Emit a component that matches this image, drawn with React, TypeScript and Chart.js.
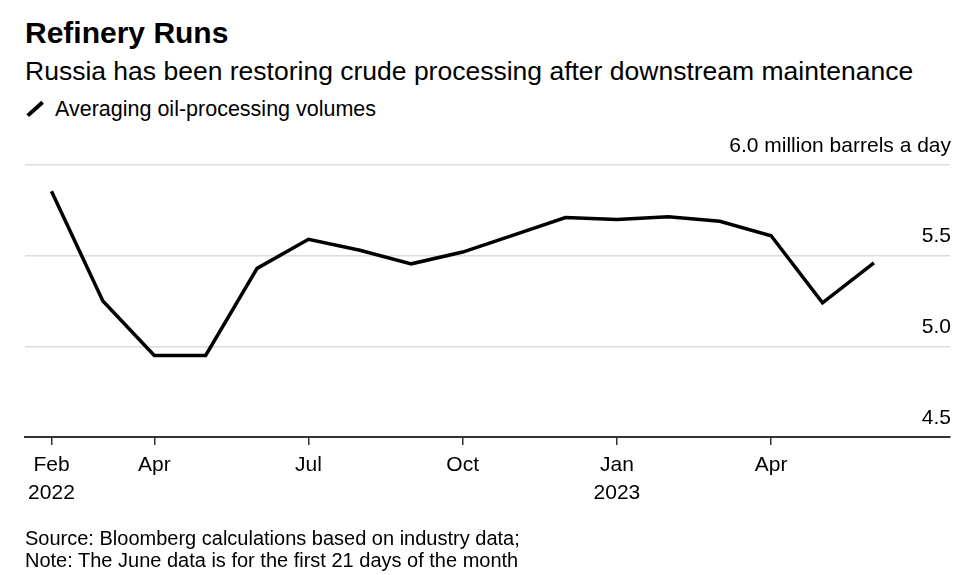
import React, { useEffect, useRef } from "react";
import { Chart, registerables } from "chart.js";

Chart.register(...registerables);

// Monthly index: 0 = Feb 2022 ... 16 = Jun 2023
const monthIndex = [0, 1, 2, 3, 4, 5, 6, 7, 8, 9, 10, 11, 12, 13, 14, 15, 16];
const runs = [5.855, 5.25, 4.95, 4.95, 5.43, 5.59, 5.53, 5.455, 5.52, 5.615, 5.71, 5.70, 5.715, 5.69, 5.61, 5.24, 5.46];
const xTickValues = [0, 2, 5, 8, 11, 14];
const xTickLabels: (string | string[])[] = [["Feb", "2022"], "Apr", "Jul", "Oct", ["Jan", "2023"], "Apr"];
const yTickValues = [4.5, 5.0, 5.5, 6.0];
const yTickLabels = ["4.5", "5.0", "5.5", "6.0 million barrels a day"];

const FONT = "'Liberation Sans', Arial, Helvetica, sans-serif";

export default function App() {
  const canvasRef = useRef<HTMLCanvasElement | null>(null);

  useEffect(() => {
    const canvas = canvasRef.current;
    if (!canvas) return;
    const chart = new Chart(canvas, {
      type: "line",
      data: {
        datasets: [
          {
            data: monthIndex.map((m, i) => ({ x: m, y: runs[i] })),
            borderColor: "#000",
            borderWidth: 3.5,
            pointRadius: 0,
            tension: 0,
            fill: false,
          },
        ],
      },
      options: {
        animation: false,
        responsive: false,
        maintainAspectRatio: false,
        layout: { padding: { left: 25, right: 25, top: 35, bottom: 13 } },
        plugins: { legend: { display: false }, tooltip: { enabled: false } },
        scales: {
          x: {
            type: "linear",
            min: -0.515,
            max: 17.48,
            afterBuildTicks: (scale: any) => {
              scale.ticks = xTickValues.map((v) => ({ value: v }));
            },
            afterFit: (scale: any) => {
              scale.height = 80;
            },
            ticks: {
              autoSkip: false,
              maxRotation: 0,
              padding: 7,
              color: "#000",
              font: { family: FONT, size: 21, lineHeight: 1.3 },
              callback: (value: any) => {
                const i = xTickValues.indexOf(Number(value));
                return i >= 0 ? xTickLabels[i] : "";
              },
            },
            grid: {
              drawOnChartArea: false,
              drawTicks: true,
              tickLength: 8,
              color: "#333",
              lineWidth: 1.5,
            },
            border: { display: true, color: "#333", width: 2 },
          },
          y: {
            position: "right",
            min: 4.5,
            max: 6.0,
            afterBuildTicks: (scale: any) => {
              scale.ticks = yTickValues.map((v) => ({ value: v }));
            },
            afterFit: (scale: any) => {
              scale.width = 0;
            },
            ticks: {
              mirror: true,
              padding: 1,
              labelOffset: -19,
              color: "#000",
              font: { family: FONT, size: 21 },
              callback: (value: any) => {
                const i = yTickValues.indexOf(Number(value));
                return i >= 0 ? yTickLabels[i] : "";
              },
            },
            grid: {
              drawTicks: false,
              lineWidth: 1.5,
              color: (ctx: any) =>
                ctx.tick && ctx.tick.value === 4.5 ? "rgba(0,0,0,0)" : "#dcdcdc",
            },
            border: { display: false },
          },
        },
      },
    });
    return () => chart.destroy();
  }, []);

  const text: React.CSSProperties = {
    position: "absolute",
    fontFamily: FONT,
    color: "#000",
    whiteSpace: "nowrap",
    lineHeight: 1,
  };

  return (
    <div
      style={{
        position: "fixed",
        left: 0,
        top: 0,
        width: 975,
        height: 575,
        background: "#fff",
        overflow: "hidden",
      }}
    >
      <div style={{ ...text, left: 25, top: 17.6, fontSize: 30, fontWeight: 700 }}>
        Refinery Runs
      </div>
      <div style={{ ...text, left: 25, top: 57.6, fontSize: 26.5 }}>
        Russia has been restoring crude processing after downstream maintenance
      </div>
      <div
        style={{
          position: "absolute",
          left: 25,
          top: 107,
          width: 20,
          height: 3.5,
          background: "#000",
          transform: "rotate(-42deg)",
          transformOrigin: "center",
        }}
      />
      <div style={{ ...text, left: 55, top: 98.5, fontSize: 21.5 }}>
        Averaging oil-processing volumes
      </div>
      <canvas
        ref={canvasRef}
        width={975}
        height={400}
        style={{ position: "absolute", left: 0, top: 130, width: 975, height: 400 }}
      />
      <div style={{ ...text, left: 25, top: 528.3, fontSize: 20, lineHeight: "21.5px" }}>
        Source: Bloomberg calculations based on industry data;
        <br />
        Note: The June data is for the first 21 days of the month
      </div>
    </div>
  );
}
